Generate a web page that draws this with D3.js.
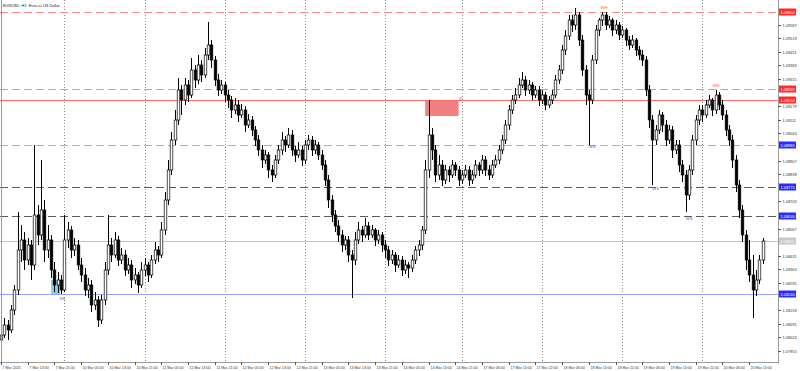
<!DOCTYPE html>
<html>
<head>
<meta charset="utf-8">
<script src="https://cdn.jsdelivr.net/npm/d3@7"></script>
<style>
  html, body { margin: 0; padding: 0; background: #fff; }
  svg { display: block; }
  text { font-family: "Liberation Sans", Arial, sans-serif; }
</style>
</head>
<body>
<svg id="chart"></svg>
<script>
// EURUSD H1 candles, 7 Mar 05:00 .. 20 Mar 18:00  [open, high, low, close]
const bars = [
  [1.0801,1.0807,1.0797,1.08035],[1.08035,1.0812,1.0802,1.08085],[1.08085,1.0811,1.0801,1.0806],[1.0806,1.08185,1.08045,1.0816],
  [1.0816,1.08285,1.08135,1.0826],[1.0826,1.0865,1.08235,1.0846],[1.0846,1.08585,1.0840,1.0851],[1.0851,1.0855,1.0836,1.0841],
  [1.0841,1.0852,1.08385,1.08485],[1.08485,1.0851,1.0831,1.08385],[1.08385,1.08985,1.0836,1.08635],[1.08635,1.08685,1.08485,1.08535],
  [1.08535,1.0891,1.0851,1.0866],[1.0866,1.0871,1.0840,1.0846],[1.0846,1.08585,1.0842,1.0851],[1.0851,1.08535,1.0832,1.0836],
  [1.0836,1.0840,1.0825,1.08285],[1.08285,1.0835,1.08245,1.0831],[1.0831,1.08335,1.0824,1.0826],[1.0826,1.08635,1.0825,1.0851],
  [1.0851,1.0860,1.0847,1.0856],[1.0856,1.0858,1.0842,1.0846],[1.0846,1.0852,1.0843,1.08485],[1.08485,1.0851,1.0836,1.08385],
  [1.08385,1.0842,1.0830,1.08335],[1.08335,1.0837,1.0823,1.0826],[1.0826,1.0832,1.0822,1.08285],[1.08285,1.0831,1.0815,1.08185],
  [1.08185,1.0825,1.0816,1.0821],[1.0821,1.0823,1.08075,1.0811],[1.0811,1.08235,1.0809,1.0821],[1.0821,1.0840,1.08185,1.0836],
  [1.0836,1.08635,1.08335,1.08485],[1.08485,1.0852,1.0840,1.08435],[1.08435,1.0855,1.0842,1.0851],[1.0851,1.0853,1.0838,1.0841],
  [1.0841,1.0847,1.0839,1.08435],[1.08435,1.0846,1.0833,1.0836],[1.0836,1.0842,1.0834,1.08385],[1.08385,1.0841,1.0827,1.0831],
  [1.0831,1.0837,1.0829,1.08335],[1.08335,1.0835,1.08245,1.08285],[1.08285,1.0840,1.0827,1.0836],[1.0836,1.0842,1.0833,1.08385],
  [1.08385,1.0840,1.0830,1.08335],[1.08335,1.08435,1.0832,1.0841],[1.0841,1.0850,1.0839,1.0846],[1.0846,1.0848,1.0840,1.08435],
  [1.08435,1.0860,1.0842,1.0856],[1.0856,1.0875,1.08535,1.0871],[1.0871,1.0891,1.08685,1.0886],[1.0886,1.0905,1.08835,1.0901],
  [1.0901,1.0916,1.08985,1.0911],[1.0911,1.0932,1.09085,1.0926],[1.0926,1.09285,1.09135,1.0921],[1.0921,1.0932,1.09185,1.09285],
  [1.09285,1.0931,1.0920,1.09235],[1.09235,1.0942,1.0922,1.0936],[1.0936,1.09385,1.0927,1.0931],[1.0931,1.09435,1.0929,1.09385],
  [1.09385,1.0941,1.0930,1.09335],[1.09335,1.0947,1.0932,1.09435],[1.09435,1.0960,1.0941,1.09485],[1.09485,1.0951,1.0937,1.0941],
  [1.0941,1.0943,1.0928,1.0931],[1.0931,1.0934,1.0923,1.0926],[1.0926,1.0931,1.0924,1.09285],[1.09285,1.0930,1.0920,1.09235],
  [1.09235,1.0926,1.0917,1.0921],[1.0921,1.0923,1.0912,1.0916],[1.0916,1.0922,1.0914,1.09185],[1.09185,1.0921,1.0910,1.09135],
  [1.09135,1.0919,1.0912,1.0916],[1.0916,1.0918,1.0905,1.09085],[1.09085,1.0914,1.0907,1.0911],[1.0911,1.0913,1.0903,1.0906],
  [1.0906,1.0908,1.0898,1.0901],[1.0901,1.09035,1.0893,1.0896],[1.0896,1.08985,1.0887,1.0891],[1.0891,1.0896,1.0889,1.08935],
  [1.08935,1.0895,1.0882,1.0886],[1.0886,1.08885,1.0880,1.08835],[1.08835,1.08935,1.0882,1.0891],[1.0891,1.08985,1.0889,1.0896],
  [1.0896,1.0905,1.08935,1.0901],[1.0901,1.0903,1.0895,1.08985],[1.08985,1.0907,1.0897,1.09035],[1.09035,1.0906,1.0893,1.0896],
  [1.0896,1.0898,1.0890,1.08935],[1.08935,1.0900,1.0892,1.0896],[1.0896,1.0898,1.0888,1.0891],[1.0891,1.0901,1.0889,1.08985],
  [1.08985,1.09035,1.0896,1.0901],[1.0901,1.0903,1.0893,1.0896],[1.0896,1.0901,1.0894,1.08985],[1.08985,1.0900,1.0891,1.08935],
  [1.08935,1.0896,1.0886,1.08885],[1.08885,1.0891,1.0878,1.0881],[1.0881,1.08835,1.0867,1.0871],[1.0871,1.08735,1.0860,1.08635],
  [1.08635,1.0866,1.0855,1.0858],[1.0858,1.0861,1.0850,1.08535],[1.08535,1.0856,1.0845,1.08485],[1.08485,1.0853,1.0846,1.0851],
  [1.0851,1.0853,1.0840,1.08435],[1.08435,1.0846,1.0822,1.0841],[1.0841,1.0855,1.08385,1.0851],[1.0851,1.0860,1.0849,1.0856],
  [1.0856,1.0858,1.0850,1.08535],[1.08535,1.0862,1.0852,1.0858],[1.0858,1.0860,1.0851,1.08535],[1.08535,1.08585,1.0852,1.0856],
  [1.0856,1.0857,1.0848,1.0851],[1.0851,1.0856,1.0849,1.08535],[1.08535,1.0855,1.0845,1.08485],[1.08485,1.0851,1.0842,1.0846],
  [1.0846,1.0848,1.0838,1.0841],[1.0841,1.0846,1.0839,1.08435],[1.08435,1.0845,1.0835,1.08385],[1.08385,1.08435,1.0837,1.0841],
  [1.0841,1.0843,1.0833,1.0836],[1.0836,1.0841,1.0834,1.08385],[1.08385,1.0840,1.0832,1.0837],[1.0837,1.08435,1.0835,1.0841],
  [1.0841,1.0848,1.0839,1.0846],[1.0846,1.0851,1.0843,1.08485],[1.08485,1.0858,1.0846,1.0856],[1.0856,1.0891,1.0854,1.0886],
  [1.0886,1.0921,1.0882,1.09035],[1.09035,1.0907,1.0891,1.0896],[1.0896,1.08985,1.0880,1.08835],[1.08835,1.08935,1.0881,1.08885],
  [1.08885,1.0891,1.0878,1.0881],[1.0881,1.08885,1.0879,1.0886],[1.0886,1.0888,1.0880,1.08835],[1.08835,1.0891,1.0882,1.08885],
  [1.08885,1.0890,1.0883,1.0886],[1.0886,1.0888,1.0878,1.0881],[1.0881,1.0886,1.0879,1.08835],[1.08835,1.08885,1.0882,1.0886],
  [1.0886,1.0888,1.0878,1.0881],[1.0881,1.0886,1.0879,1.08835],[1.08835,1.0891,1.0882,1.08885],[1.08885,1.0890,1.0883,1.0886],
  [1.0886,1.08935,1.0884,1.0891],[1.0891,1.0893,1.0883,1.0886],[1.0886,1.08885,1.0881,1.08835],[1.08835,1.0891,1.0882,1.08885],
  [1.08885,1.08935,1.0887,1.0891],[1.0891,1.08985,1.0889,1.0896],[1.0896,1.09035,1.0894,1.0901],[1.0901,1.0911,1.0899,1.09085],
  [1.09085,1.09185,1.0906,1.0916],[1.0916,1.09235,1.0914,1.0921],[1.0921,1.0927,1.0919,1.09235],[1.09235,1.0932,1.0922,1.09285],
  [1.09285,1.0935,1.0927,1.0931],[1.0931,1.0933,1.0923,1.0926],[1.0926,1.0931,1.0924,1.09285],[1.09285,1.0930,1.0921,1.09235],
  [1.09235,1.0928,1.0922,1.0926],[1.0926,1.0928,1.0918,1.0921],[1.0921,1.0926,1.0919,1.09235],[1.09235,1.0925,1.0916,1.09185],
  [1.09185,1.0923,1.0917,1.0921],[1.0921,1.0926,1.0919,1.09235],[1.09235,1.09335,1.0922,1.0931],[1.0931,1.09385,1.0929,1.0936],
  [1.0936,1.09485,1.0934,1.0946],[1.0946,1.0956,1.09435,1.0953],[1.0953,1.09635,1.0951,1.0961],[1.0961,1.09635,1.0955,1.09585],
  [1.09585,1.0967,1.0956,1.09635],[1.09635,1.0965,1.0948,1.0951],[1.0951,1.09535,1.0933,1.0936],[1.0936,1.09385,1.09185,1.09235],
  [1.09235,1.0926,1.08985,1.0921],[1.0921,1.09435,1.0919,1.0941],[1.0941,1.09585,1.0939,1.0956],[1.0956,1.0962,1.0953,1.0961],
  [1.0961,1.0965,1.0958,1.09635],[1.09635,1.0965,1.0956,1.09585],[1.09585,1.0963,1.0957,1.0961],[1.0961,1.0962,1.0953,1.0956],
  [1.0956,1.0961,1.0954,1.09585],[1.09585,1.0960,1.0951,1.09535],[1.09535,1.0958,1.0952,1.0956],[1.0956,1.0957,1.0948,1.0951],
  [1.0951,1.0953,1.0946,1.09485],[1.09485,1.09535,1.0947,1.0951],[1.0951,1.0952,1.0943,1.0946],[1.0946,1.0948,1.0941,1.09435],
  [1.09435,1.0946,1.0938,1.0941],[1.0941,1.0943,1.0923,1.0926],[1.0926,1.09285,1.0907,1.0911],[1.0911,1.09135,1.08785,1.0901],
  [1.0901,1.09085,1.08985,1.0906],[1.0906,1.0916,1.0904,1.09135],[1.09135,1.0915,1.0905,1.09085],[1.09085,1.0911,1.0898,1.0901],
  [1.0901,1.09085,1.0899,1.0906],[1.0906,1.0908,1.0892,1.0896],[1.0896,1.0901,1.0894,1.08985],[1.08985,1.0901,1.0885,1.08885],
  [1.08885,1.0891,1.0880,1.08835],[1.08835,1.0886,1.0865,1.08735],[1.08735,1.08885,1.0871,1.0886],[1.0886,1.09035,1.08835,1.0901],
  [1.0901,1.09135,1.08985,1.0911],[1.0911,1.09185,1.09085,1.0916],[1.0916,1.09185,1.0910,1.09135],[1.09135,1.0921,1.0912,1.09185],
  [1.09185,1.09235,1.0917,1.0921],[1.0921,1.0922,1.0913,1.0916],[1.0916,1.0926,1.0914,1.09235],[1.09235,1.0925,1.0916,1.09185],
  [1.09185,1.0921,1.0911,1.09135],[1.09135,1.0916,1.0903,1.0906],[1.0906,1.09085,1.0898,1.0901],[1.0901,1.09035,1.0887,1.0891],
  [1.0891,1.08935,1.0875,1.08785],[1.08785,1.0881,1.0862,1.0866],[1.0866,1.08685,1.0850,1.08535],[1.08535,1.0856,1.0836,1.0841],
  [1.0841,1.0851,1.0830,1.08335],[1.08335,1.08435,1.0812,1.0826],[1.0826,1.0836,1.0823,1.0831],[1.0831,1.08435,1.0829,1.0841],
  [1.0841,1.0852,1.0839,1.08505]
];

// bottom axis labels: bar index -> text
const timeIdx = [0,8,16,24,32,40,48,56,64,72,80,88,96,104,112,120,128,136,144,152,160,168,176,184,192,200,208,216,224];
const timeText = ["7 Mar 2025","7 Mar 13:00","7 Mar 21:00","10 Mar 05:00","10 Mar 13:00","10 Mar 21:00","11 Mar 05:00",
  "11 Mar 13:00","11 Mar 21:00","12 Mar 05:00","12 Mar 13:00","12 Mar 21:00","13 Mar 05:00","13 Mar 13:00","13 Mar 21:00",
  "14 Mar 05:00","14 Mar 13:00","14 Mar 21:00","17 Mar 06:00","17 Mar 14:00","17 Mar 22:00","18 Mar 06:00","18 Mar 14:00",
  "18 Mar 22:00","19 Mar 06:00","19 Mar 14:00","19 Mar 22:00","20 Mar 06:00","20 Mar 14:00"];
// first bar of every day (period separators)
const dayStarts = [19,43,67,91,115,138,162,186,210];

const priceTicks = [1.09655,1.09587,1.09519,1.09451,1.09383,1.09315,1.09247,1.09179,1.09111,1.09043,1.08975,1.08907,
  1.08839,1.08771,1.08703,1.08635,1.08567,1.08499,1.08431,1.08363,1.08295,1.08227,1.08159,1.08091,1.08023,1.07955];

// horizontal levels drawn on the chart
const levelPrice = [1.0965, 1.09265, 1.0921, 1.08985, 1.08775, 1.0863, 1.08505, 1.0824];
const levelKind  = ["redDash","redDash","redSolid","blueDash","darkDash","darkDash","last","blueSolid"];

// zones: [fromBar, toBar, top, bottom]
const zoneCyan = [15, 17.7, 1.0831, 1.0824];
const zoneRed  = [127, 137, 1.0921, 1.0913];
const marks = [
  {bar: 17.5, price: 1.0821, t: "SS", c: "#3d5afe"},
  {bar: 137.2, price: 1.0921, t: "B", c: "#ff5a5a"},
  {bar: 179.5, price: 1.09665, t: "WH", c: "#ff5a5a"},
  {bar: 176, price: 1.0897, t: "WS", c: "#3d5afe"},
  {bar: 195, price: 1.0876, t: "WS", c: "#3d5afe"},
  {bar: 205, price: 1.0861, t: "WS", c: "#3d5afe"},
  {bar: 213, price: 1.09275, t: "WH", c: "#ff5a5a"}
];

const W = 800, H = 371;
const plotR = 778, plotB = 362;
const svg = d3.select('#chart').attr('width', W).attr('height', H);

const x = d3.scaleLinear().domain([0, 228]).range([1, 1 + 228 * 3.34]);
const y = d3.scaleLinear().domain([1.0971 - plotB / 20000, 1.0971]).range([plotB, 0]);

// period separators
svg.append('g').selectAll('line').data(dayStarts).enter().append('line')
  .attr('x1', d => Math.round(x(d)) + 0.5).attr('x2', d => Math.round(x(d)) + 0.5)
  .attr('y1', 0).attr('y2', plotB)
  .attr('stroke', '#8a8a8a').attr('stroke-width', 1).attr('stroke-dasharray', '1,2');

// zones
const zone = (z, col) => svg.append('rect')
  .attr('x', x(z[0])).attr('width', x(z[1]) - x(z[0]))
  .attr('y', y(z[2])).attr('height', y(z[3]) - y(z[2]))
  .attr('fill', col);
zone(zoneCyan, '#7fd0dc');
zone(zoneRed, '#f28080');

// level lines
const lvStyle = {
  redDash:  {c: '#ff8a8a', d: '8,4', box: '#ff2a2a', fg: '#fff'},
  redSolid: {c: '#ff6b6b', d: null, box: '#ff2a2a', fg: '#fff'},
  blueDash: {c: '#a0a8ff', d: '8,4', box: '#2b2bff', fg: '#fff'},
  darkDash: {c: '#5a5a5a', d: '8,4', box: '#2b2bff', fg: '#fff'},
  last:     {c: '#c4c4c4', d: null, box: '#c8c8c8', fg: '#fff'},
  blueSolid:{c: '#9aa2ff', d: null, box: '#2b2bff', fg: '#fff'}
};
levelPrice.forEach((p, i) => {
  const s = lvStyle[levelKind[i]];
  const yy = Math.round(y(p)) + 0.5;
  svg.append('line').attr('x1', 0).attr('x2', plotR).attr('y1', yy).attr('y2', yy)
    .attr('stroke', s.c).attr('stroke-width', 1).attr('stroke-dasharray', s.d);
});

// candles
const g = svg.append('g');
bars.forEach((b, i) => {
  const cx = Math.round(x(i)) + 0.5;
  const up = b[3] >= b[0];
  g.append('line').attr('x1', cx).attr('x2', cx)
    .attr('y1', y(b[1])).attr('y2', y(b[2]))
    .attr('stroke', '#000').attr('stroke-width', 1);
  const top = y(Math.max(b[0], b[3])), bot = y(Math.min(b[0], b[3]));
  g.append('rect').attr('x', cx - 1.3).attr('width', 2.6)
    .attr('y', top).attr('height', Math.max(bot - top, 0.6))
    .attr('fill', up ? '#fff' : '#000').attr('stroke', '#000').attr('stroke-width', 0.7);
});

// marks
svg.append('g').selectAll('text').data(marks).enter().append('text')
  .attr('x', d => x(d.bar)).attr('y', d => y(d.price))
  .attr('font-size', 4.2).attr('fill', d => d.c).text(d => d.t);

// axes frame
svg.append('line').attr('x1', plotR + 0.5).attr('x2', plotR + 0.5).attr('y1', 0).attr('y2', plotB + 1)
  .attr('stroke', '#9a9a9a');
svg.append('line').attr('x1', 0).attr('x2', plotR).attr('y1', plotB + 0.5).attr('y2', plotB + 0.5)
  .attr('stroke', '#9a9a9a');
svg.append('line').attr('x1', 1.5).attr('x2', 1.5).attr('y1', 0).attr('y2', plotB)
  .attr('stroke', '#9a9a9a');

// price axis (ticks hidden where a level box sits)
const yAxis = svg.append('g');
priceTicks.forEach(p => {
  const yy = Math.round(y(p)) + 0.5;
  if (levelPrice.some(l => Math.abs(y(l) - yy) < 6)) return;
  yAxis.append('line').attr('x1', plotR).attr('x2', plotR + 3).attr('y1', yy).attr('y2', yy).attr('stroke', '#555');
  yAxis.append('text').attr('x', plotR + 4.5).attr('y', yy + 1.5).attr('font-size', 3.9)
    .attr('fill', '#333').text(p.toFixed(5));
});

// level price boxes
levelPrice.forEach((p, i) => {
  const s = lvStyle[levelKind[i]];
  const yy = y(p);
  yAxis.append('rect').attr('x', plotR + 1).attr('y', yy - 3.5).attr('width', 17).attr('height', 7).attr('fill', s.box);
  yAxis.append('text').attr('x', plotR + 2.5).attr('y', yy + 1.5).attr('font-size', 3.9)
    .attr('fill', s.fg).text(p.toFixed(5));
});

// time axis
const xAxis = svg.append('g');
timeIdx.forEach((idx, k) => {
  const xx = Math.round(x(idx)) + 0.5;
  xAxis.append('line').attr('x1', xx).attr('x2', xx).attr('y1', plotB).attr('y2', plotB + 3).attr('stroke', '#555');
  xAxis.append('text').attr('x', xx + 1).attr('y', plotB + 6.5).attr('font-size', 3.6)
    .attr('fill', '#333').text(timeText[k]);
});

// title
svg.append('text').attr('x', 3).attr('y', 6.5).attr('font-size', 3.9).attr('fill', '#222')
  .text('EURUSD, H1:  Euro vs US Dollar');
</script>
</body>
</html>
